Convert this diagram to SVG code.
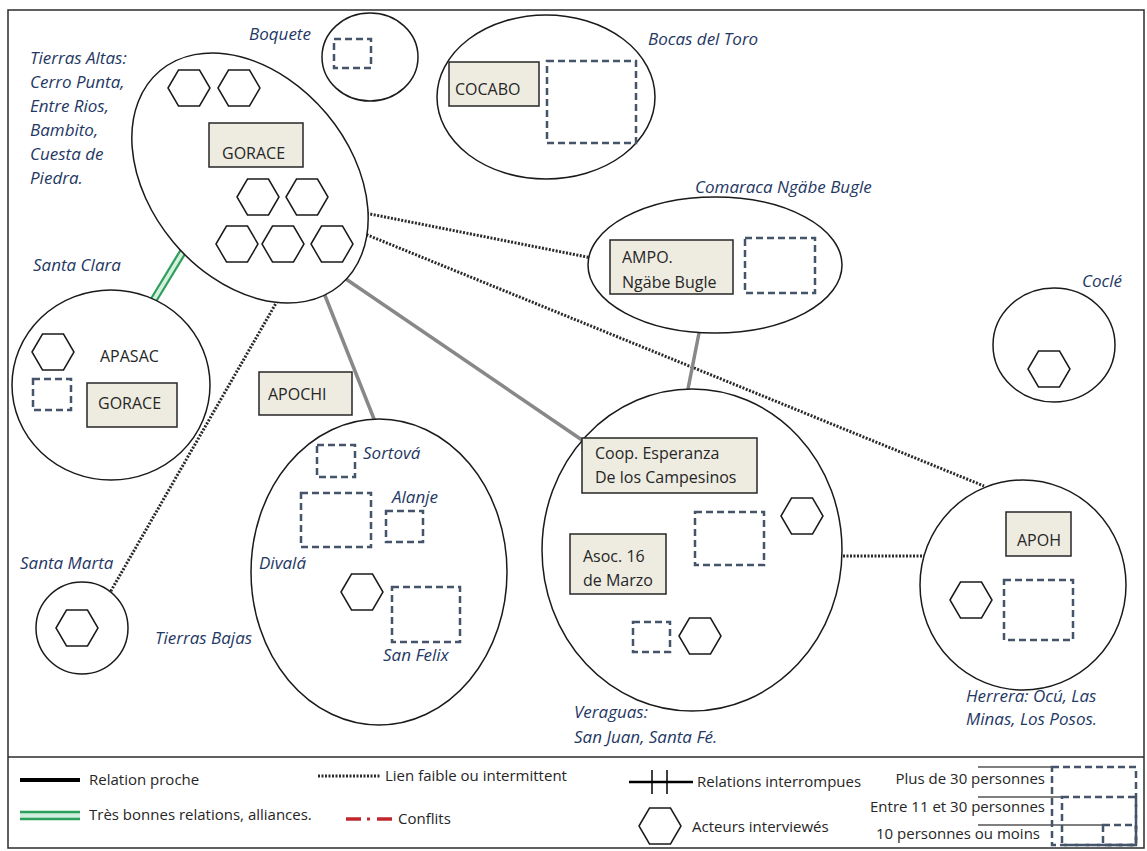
<svg xmlns="http://www.w3.org/2000/svg" xmlns:xlink="http://www.w3.org/1999/xlink" width="1147" height="851" viewBox="0 0 1147 851">
<defs>
<style>
.bg{fill:#ffffff}
.frame{fill:none;stroke:#2b2b2b;stroke-width:1.5}
.reg{fill:#ffffff;stroke:#1a1a1a;stroke-width:1.5}
.box{fill:#eeece1;stroke:#262626;stroke-width:1.5}
.dash{fill:none;stroke:#44546a;stroke-width:2.5;stroke-dasharray:7 4}
.hex{fill:#ffffff;stroke:#1a1a1a;stroke-width:1.5}
.lbl{font-family:"Open Sans","Noto Sans",sans-serif;font-style:italic;font-size:17px;fill:#1f3864}
.txt{font-family:"Open Sans","Noto Sans",sans-serif;font-size:16px;fill:#262626}
.leg{font-family:"Open Sans","Noto Sans",sans-serif;font-size:15px;fill:#262626}
.dot{fill:none;stroke:#2a2a2a;stroke-width:3;stroke-dasharray:2 1.5}
.gray{fill:none;stroke:#888888;stroke-width:3.5}
.green{fill:none;stroke:#2e9e5b;stroke-width:2.2}
</style>
<polygon id="hex" class="hex" points="-21,0 -10.5,-18 10.5,-18 21,0 10.5,18 -10.5,18"/>
</defs>
<rect class="bg" x="0" y="0" width="1147" height="851"/>
<rect class="frame" x="8" y="10" width="1136" height="838"/>
<line class="frame" x1="8" y1="757" x2="1144" y2="757"/>

<g id="connectors">
<line class="dot" x1="360" y1="212" x2="592" y2="258"/>
<line class="dot" x1="360" y1="232" x2="984" y2="486"/>
<line class="dot" x1="279" y1="298" x2="108" y2="596"/>
<line class="dot" x1="836" y1="556" x2="924" y2="556"/>
<line class="gray" x1="322" y1="288" x2="376" y2="424"/>
<line class="gray" x1="340" y1="275" x2="582" y2="440"/>
<line class="gray" x1="700" y1="328" x2="687" y2="394"/>
<line x1="184" y1="250" x2="153" y2="301" stroke="#d4f0de" stroke-width="5"/>
<line class="green" x1="186.5" y1="251.5" x2="155.5" y2="302.5"/>
<line class="green" x1="181.5" y1="248.5" x2="150.5" y2="299.5"/>
</g>

<g id="tierras-altas">
<ellipse class="reg" cx="250" cy="178" rx="140" ry="100" transform="rotate(50 250 178)"/>
<use xlink:href="#hex" x="189" y="88"/>
<use xlink:href="#hex" x="239" y="88"/>
<use xlink:href="#hex" x="258" y="197"/>
<use xlink:href="#hex" x="307" y="197"/>
<use xlink:href="#hex" x="237" y="244"/>
<use xlink:href="#hex" x="283" y="244"/>
<use xlink:href="#hex" x="332" y="244"/>
<rect class="box" x="209" y="123" width="94" height="44"/>
<text class="txt" x="222" y="159">GORACE</text>
<text class="lbl" x="30" y="64">Tierras Altas:</text>
<text class="lbl" x="30" y="88">Cerro Punta,</text>
<text class="lbl" x="30" y="112">Entre Rios,</text>
<text class="lbl" x="30" y="136">Bambito,</text>
<text class="lbl" x="30" y="160">Cuesta de</text>
<text class="lbl" x="30" y="184">Piedra.</text>
</g>

<g id="boquete">
<ellipse class="reg" cx="370" cy="57" rx="48" ry="44"/>
<rect class="dash" x="334" y="39" width="37" height="29"/>
<text class="lbl" x="249" y="40">Boquete</text>
</g>

<g id="bocas-del-toro">
<ellipse class="reg" cx="546" cy="97" rx="109" ry="82"/>
<rect class="box" x="449" y="62" width="90" height="44"/>
<text class="txt" x="455" y="95">COCABO</text>
<rect class="dash" x="547" y="61" width="89" height="82"/>
<text class="lbl" x="648" y="45">Bocas del Toro</text>
</g>

<g id="comarca">
<ellipse class="reg" cx="715" cy="265" rx="127" ry="68"/>
<rect class="box" x="610" y="240" width="123" height="54"/>
<text class="txt" x="622" y="263">AMPO.</text>
<text class="txt" x="622" y="288">Ngäbe Bugle</text>
<rect class="dash" x="745" y="238" width="70" height="55"/>
<text class="lbl" x="695" y="193">Comaraca Ngäbe Bugle</text>
</g>

<g id="cocle">
<ellipse class="reg" cx="1054" cy="345" rx="61" ry="57"/>
<use xlink:href="#hex" x="1049" y="369"/>
<text class="lbl" x="1082" y="287">Coclé</text>
</g>

<g id="santa-clara">
<ellipse class="reg" cx="111" cy="385" rx="99" ry="95"/>
<use xlink:href="#hex" x="53" y="352"/>
<text class="txt" x="100" y="362">APASAC</text>
<rect class="dash" x="33" y="379" width="38" height="31"/>
<rect class="box" x="87" y="383" width="90" height="44"/>
<text class="txt" x="98" y="409">GORACE</text>
<text class="lbl" x="33" y="271">Santa Clara</text>
</g>

<g id="apochi">
<rect class="box" x="259" y="372" width="93" height="43"/>
<text class="txt" x="268" y="400">APOCHI</text>
</g>

<g id="santa-marta">
<ellipse class="reg" cx="82" cy="628" rx="46" ry="46"/>
<use xlink:href="#hex" x="77" y="628"/>
<text class="lbl" x="20" y="569">Santa Marta</text>
</g>

<g id="tierras-bajas">
<ellipse class="reg" cx="379" cy="572" rx="128" ry="153"/>
<rect class="dash" x="317" y="445" width="38" height="32"/>
<text class="lbl" x="363" y="459">Sortová</text>
<rect class="dash" x="301" y="493" width="70" height="54"/>
<text class="lbl" x="392" y="503">Alanje</text>
<rect class="dash" x="386" y="511" width="37" height="31"/>
<text class="lbl" x="259" y="569">Divalá</text>
<use xlink:href="#hex" x="362" y="592"/>
<rect class="dash" x="392" y="587" width="68" height="55"/>
<text class="lbl" x="383" y="661">San Felix</text>
<text class="lbl" x="155" y="644">Tierras Bajas</text>
</g>

<g id="veraguas">
<ellipse class="reg" cx="692" cy="550" rx="150" ry="161"/>
<rect class="box" x="582" y="438" width="175" height="55"/>
<text class="txt" x="595" y="459">Coop. Esperanza</text>
<text class="txt" x="595" y="483">De los Campesinos</text>
<rect class="dash" x="695" y="512" width="69" height="53"/>
<use xlink:href="#hex" x="802" y="516"/>
<rect class="box" x="570" y="534" width="96" height="60"/>
<text class="txt" x="583" y="562">Asoc. 16</text>
<text class="txt" x="583" y="586">de Marzo</text>
<rect class="dash" x="633" y="622" width="37" height="30"/>
<use xlink:href="#hex" x="700" y="636"/>
<text class="lbl" x="574" y="718">Veraguas:</text>
<text class="lbl" x="574" y="743">San Juan, Santa Fé.</text>
</g>

<g id="herrera">
<ellipse class="reg" cx="1023" cy="585" rx="103" ry="105"/>
<rect class="box" x="1006" y="512" width="65" height="44"/>
<text class="txt" x="1017" y="546">APOH</text>
<use xlink:href="#hex" x="971" y="600"/>
<rect class="dash" x="1004" y="580" width="69" height="60"/>
<text class="lbl" x="966" y="702">Herrera: Ocú, Las</text>
<text class="lbl" x="966" y="725">Minas, Los Posos.</text>
</g>

<g id="legend">
<line x1="20" y1="780" x2="80" y2="780" stroke="#000000" stroke-width="4"/>
<text class="leg" x="89" y="785">Relation proche</text>
<line x1="20" y1="815.5" x2="80" y2="815.5" stroke="#cfeedd" stroke-width="9"/>
<line x1="20" y1="812" x2="80" y2="812" stroke="#2e9e5b" stroke-width="2.5"/>
<line x1="20" y1="819" x2="80" y2="819" stroke="#2e9e5b" stroke-width="2.5"/>
<text class="leg" x="89" y="820">Très bonnes relations, alliances.</text>
<line class="dot" x1="318" y1="776" x2="381" y2="776" stroke-width="2"/>
<text class="leg" x="385" y="781">Lien faible ou intermittent</text>
<line x1="346" y1="819" x2="361" y2="819" stroke="#c0272d" stroke-width="3.5"/>
<line x1="367" y1="819" x2="370" y2="819" stroke="#c0272d" stroke-width="3"/>
<line x1="377" y1="819" x2="392" y2="819" stroke="#c0272d" stroke-width="3.5"/>
<text class="leg" x="398" y="824">Conflits</text>
<line x1="629" y1="782" x2="693" y2="782" stroke="#000000" stroke-width="2.5"/>
<line x1="652" y1="770" x2="652" y2="794" stroke="#000000" stroke-width="1.5"/>
<line x1="667" y1="770" x2="667" y2="794" stroke="#000000" stroke-width="1.5"/>
<text class="leg" x="697" y="787">Relations interrompues</text>
<use xlink:href="#hex" x="660" y="826"/>
<text class="leg" x="692" y="832">Acteurs interviewés</text>
<line x1="978" y1="767" x2="1052" y2="767" stroke="#000000" stroke-width="1.2"/>
<line x1="978" y1="797" x2="1062" y2="797" stroke="#000000" stroke-width="1.2"/>
<line x1="978" y1="825" x2="1103" y2="825" stroke="#000000" stroke-width="1.2"/>
<rect class="dash" x="1052" y="767" width="84" height="78"/>
<rect class="dash" x="1062" y="797" width="74" height="48"/>
<rect class="dash" x="1103" y="825" width="33" height="20"/>
<text class="leg" x="1045" y="784" text-anchor="end">Plus de 30 personnes</text>
<text class="leg" x="1045" y="812" text-anchor="end">Entre 11 et 30 personnes</text>
<text class="leg" x="1040" y="839" text-anchor="end">10 personnes ou moins</text>
</g>
</svg>
